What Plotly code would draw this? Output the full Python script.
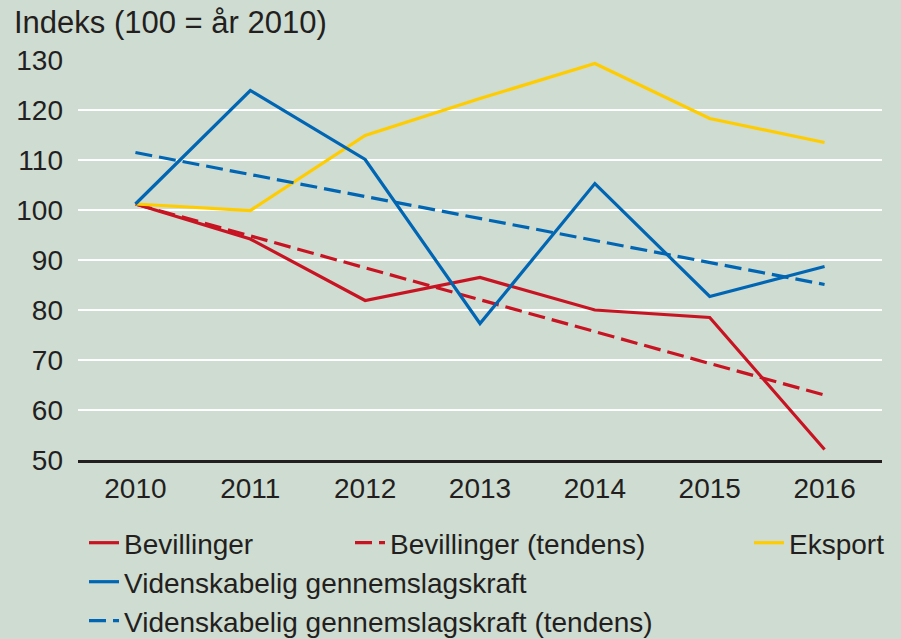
import plotly.graph_objects as go

years = ["2010", "2011", "2012", "2013", "2014", "2015", "2016"]
bevillinger = [101.2, 94.2, 81.9, 86.5, 80.0, 78.5, 52.1]
bevillinger_tendens = [101.2, 94.8, 88.5, 82.1, 75.7, 69.3, 63.0]
eksport = [101.2, 99.9, 114.9, 122.3, 129.3, 118.3, 113.5]
videnskabelig = [101.2, 123.9, 110.1, 77.3, 105.3, 82.7, 88.7]
videnskabelig_tendens = [111.5, 107.1, 102.7, 98.3, 93.9, 89.5, 85.1]
y_ticks = [50, 60, 70, 80, 90, 100, 110, 120, 130]

RED = "#c81422"
YEL = "#ffcc00"
BLUE = "#0066b3"
BG = "#cfdcd1"
TXT = "#231f20"
FONT = "Liberation Sans, Arial, sans-serif"
DASH = "17px,7px"

fig = go.Figure()
fig.add_trace(go.Scatter(x=years, y=bevillinger, name="Bevillinger", mode="lines",
                         line=dict(color=RED, width=3.2), legend="legend", showlegend=True))
fig.add_trace(go.Scatter(x=years, y=bevillinger_tendens, name="Bevillinger (tendens)", mode="lines",
                         line=dict(color=RED, width=3.2, dash=DASH), legend="legend2", showlegend=True))
fig.add_trace(go.Scatter(x=years, y=eksport, name="Eksport", mode="lines",
                         line=dict(color=YEL, width=3.2), legend="legend3", showlegend=True))
fig.add_trace(go.Scatter(x=years, y=videnskabelig, name="Videnskabelig gennemslagskraft", mode="lines",
                         line=dict(color=BLUE, width=3.2), legend="legend4", showlegend=True))
fig.add_trace(go.Scatter(x=years, y=videnskabelig_tendens, name="Videnskabelig gennemslagskraft (tendens)",
                         mode="lines", line=dict(color=BLUE, width=3.2, dash=DASH), legend="legend5",
                         showlegend=True))

L, R, T, B = 78, 19, 60, 179
W, H = 901, 639
pw = W - L - R
ph = H - T - B

def px_x(p):
    return (p - L) / pw

def px_y(p):
    return (H - B - p) / ph

leg_common = dict(font=dict(family=FONT, size=28, color=TXT), bgcolor="rgba(0,0,0,0)",
                  xanchor="left", yanchor="top", tracegroupgap=0, orientation="v", visible=True)
top1 = 518
fig.update_layout(
    width=W, height=H,
    margin=dict(l=L, r=R, t=T, b=B, autoexpand=False),
    paper_bgcolor=BG, plot_bgcolor=BG,
    showlegend=True,
    font=dict(family=FONT, size=28, color=TXT),
    xaxis=dict(type="category", range=[-0.5, 6.5], showgrid=False, showline=True,
               linecolor=TXT, linewidth=3, ticks="", tickfont=dict(size=28),
               ticklabelstandoff=1, fixedrange=True, automargin=False),
    yaxis=dict(range=[50, 130], tickvals=y_ticks, showgrid=True, gridcolor="white",
               gridwidth=2, zeroline=False, showline=False, ticks="",
               ticklabelstandoff=14, tickfont=dict(size=28), automargin=False),
    legend=dict(x=px_x(84), y=px_y(top1), **leg_common),
    legend2=dict(x=px_x(350), y=px_y(top1), **leg_common),
    legend3=dict(x=px_x(749), y=px_y(top1), **leg_common),
    legend4=dict(x=px_x(84), y=px_y(top1 + 39), **leg_common),
    legend5=dict(x=px_x(84), y=px_y(top1 + 78), **leg_common),
    annotations=[dict(text="Indeks (100 = år 2010)", xref="paper", yref="paper",
                      x=px_x(12), y=px_y(23), xanchor="left", yanchor="middle",
                      showarrow=False, font=dict(family=FONT, size=31, color=TXT))],
)

fig.write_html("out.html", config={"displayModeBar": False},
               post_script="document.body.style.margin='0px';")
